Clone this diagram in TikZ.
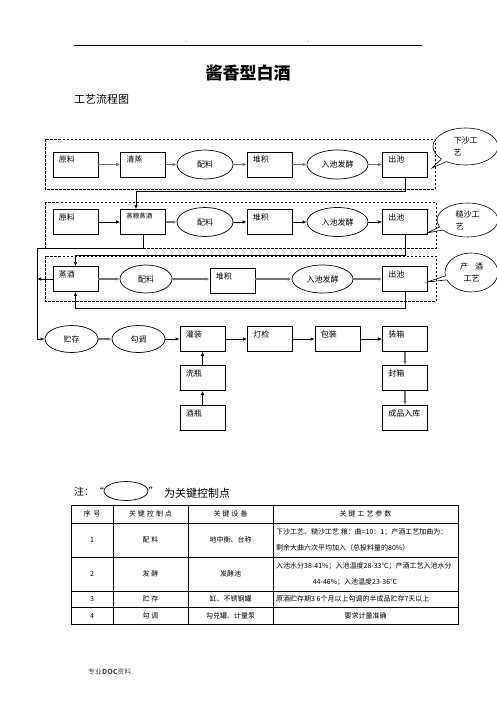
\documentclass[tikz,border=0pt]{standalone}
\usepackage{fontspec}
\setmainfont{Noto Sans CJK SC}
\usetikzlibrary{arrows.meta,shapes.geometric,shapes.callouts}

\tikzset{
  stepbox/.style={draw, line width=0.7pt, minimum width=45pt, minimum height=25pt, inner sep=0pt,
    label={[font=\fontsize{8}{8}\selectfont, anchor=north west, inner sep=0pt, xshift=6pt, yshift=-4pt]north west:#1}},
  keypt/.style={draw, ellipse, line width=0.7pt, minimum width=56pt, minimum height=29pt, inner sep=0pt,
    font=\fontsize{8}{8}\selectfont},
  stage/.style={draw, line width=0.7pt, dash pattern=on 2.5pt off 1.5pt},
  flow/.style={draw=black!55, line width=1.2pt, -{Latex[length=4pt,width=3.5pt]}},
  flowthin/.style={draw=black, line width=0.7pt, -{Latex[length=4pt,width=3.5pt]}},
  note/.style={draw, ellipse callout, line width=0.6pt, inner sep=0pt, callout pointer arc=12,
    font=\fontsize{8}{12}\selectfont},
  cell/.style={font=\fontsize{7}{7}\selectfont, inner sep=0pt}
}

\begin{document}
\begin{tikzpicture}[x=1pt,y=-1pt]
\useasboundingbox (0,0) rectangle (496,702);

% page head
\draw[line width=0.8pt] (74,45) -- (422,45);
\fill[black!40] (186.5,41.5) circle (0.6pt) (308,41.5) circle (0.6pt);
\node[font=\fontsize{17}{17}\selectfont\bfseries] (title) at (248,73) {酱香型白酒};
\node[font=\fontsize{11}{11}\selectfont, anchor=west, inner sep=0pt] (subtitle) at (74,99) {工艺流程图};

% stage frames
\draw[stage] (45,139) rectangle (435,189);
\draw[stage] (45,202) rectangle (436,248);
\draw[stage] (45,256) rectangle (436,301);

% first round
\node[stepbox=原料] (a1) at (75.5,164.5) {};
\node[stepbox=清蒸] (a2) at (143,164.5) {};
\node[keypt] (a3) at (205,164.5) {配料};
\node[stepbox=堆积] (a4) at (269.5,164.5) {};
\node[keypt, minimum width=61pt] (a5) at (337.5,164.5) {入池发酵};
\node[stepbox=出池] (a6) at (405,164.5) {};

\draw[flow] (a1) -- (a2);
\draw[flow] (a2) -- (a3);
\draw[flow] (a3) -- (a4);
\draw[flow] (a4) -- (a5);
\draw[flow] (a5) -- (a6);

% second round
\node[stepbox=原料] (b1) at (75.5,222) {};
\node[stepbox={\fontsize{6.5}{6.5}\selectfont 蒸粮蒸酒}] (b2) at (143,222) {};
\node[keypt] (b3) at (205,222) {配料};
\node[stepbox=堆积] (b4) at (269.5,222) {};
\node[keypt, minimum width=61pt] (b5) at (337.5,222) {入池发酵};
\node[stepbox=出池] (b6) at (405,222) {};

\draw[flowthin] (b1) -- (b2);
\draw[flow] (b2) -- (b3);
\draw[flowthin] (b3) -- (b4);
\draw[flowthin] (b4) -- (b5);
\draw[flowthin] (b5) -- (b6);

% third round
\node[stepbox=蒸酒] (c1) at (75.5,279) {};
\node[keypt, minimum width=52pt, minimum height=28pt] (c2) at (146,279) {配料};
\node[stepbox=堆积] (c3) at (232.5,281) {};
\node[keypt, minimum width=61pt, minimum height=28pt] (c4) at (322.5,279) {入池发酵};
\node[stepbox=出池] (c5) at (405,279) {};

\draw[flow] (c1) -- (c2);
\draw[flow] (c2) -- (c2 -| c3.west);
\draw[flow] (c3.east |- c4) -- (c4);
\draw[flow] (c4) -- (c5);

% callouts
\coordinate (t1) at (432,168);
\coordinate (t2) at (427,233);
\coordinate (t3) at (427,282);
\node[note, align=left, minimum width=65pt, minimum height=37pt, callout absolute pointer={(t1)}] (n1) at (465.5,146.5) {下沙工\\艺};
\node[note, align=left, minimum width=61pt, minimum height=34pt, callout absolute pointer={(t2)}] (n2) at (467.5,220) {糙沙工\\艺};
\node[note, align=center, minimum width=53pt, minimum height=39pt, callout absolute pointer={(t3)}] (n3) at (471.5,272.5) {产\hspace{7pt}酒\\工艺};

% packing line
\node[keypt, minimum width=53pt, minimum height=27pt] (d1) at (71.5,339) {贮存};
\node[keypt, minimum width=53pt, minimum height=27pt] (d2) at (138.5,339) {勾调};
\node[stepbox=灌装] (d3) at (202.5,339) {};
\node[stepbox=灯检] (d4) at (270,339) {};
\node[stepbox=包装] (d5) at (337.5,339) {};
\node[stepbox=装箱] (d6) at (405,339) {};
\node[stepbox=洗瓶] (e1) at (202.5,378) {};
\node[stepbox=酒瓶] (f1) at (202.5,418) {};
\node[stepbox=封箱] (e2) at (405,378) {};
\node[stepbox=成品入库] (f2) at (405,418) {};

\draw[flow] (d1) -- (d2);
\draw[flowthin] (d2) -- (d3);
\draw[flowthin] (d3) -- (d4);
\draw[flowthin] (d4) -- (d5);
\draw[flowthin] (d5) -- (d6);
\draw[flowthin] (e1) -- (d3);
\draw[flowthin] (f1) -- (e1);
\draw[flow] (d6) -- (e2);
\draw[flow] (e2) -- (f2);

% links between rounds
\coordinate (trunk) at (37,248.5);
\draw[flowthin] (a6.south) -- ++(0,13.5) -| ([xshift=-7pt]b2.north);
\draw[flowthin] (b2.south) |- (trunk) |- (d1.west);
\draw[flowthin] (b6.south) -- ++(0,20.5) -| (c1.north);
\draw[flowthin] (c1.west) -- (c1.west -| trunk);
\draw[flowthin] (c5.south) -- ++(0,16.5) -| (c1.south);

% legend
\node[anchor=west, inner sep=0pt, font=\fontsize{10}{10}\selectfont] (notehead) at (74,492) {注：“};
\node[draw, ellipse, line width=0.7pt, minimum width=44pt, minimum height=19pt, inner sep=0pt] (keymark) at (126,491) {};
\node[anchor=west, inner sep=0pt, font=\fontsize{10}{10}\selectfont] (notetail) at (keymark.east) {”};
\node[anchor=west, inner sep=0pt, font=\fontsize{11}{11}\selectfont] (notetext) at (164,493) {为关键控制点};

% table of key points
\draw[line width=0.9pt] (71,505) rectangle (458,624);
\draw[line width=0.5pt] (71,523) -- (458,523);
\draw[line width=0.5pt] (71,557) -- (458,557);
\draw[line width=0.5pt] (71,591) -- (458,591);
\draw[line width=0.5pt] (71,607) -- (458,607);
\draw[line width=0.5pt] (113,505) -- (113,624);
\draw[line width=0.5pt] (188,505) -- (188,624);
\draw[line width=0.5pt] (273,505) -- (273,624);

\node[cell] (h1) at (92,514) {序\hspace{3pt}号};
\node[cell] (h2) at (150.5,514) {关\hspace{2pt}键\hspace{2pt}控\hspace{2pt}制\hspace{2pt}点};
\node[cell] (h3) at (230.5,514) {关\hspace{2pt}键\hspace{2pt}设\hspace{2pt}备};
\node[cell] (h4) at (365.5,514) {关\hspace{2pt}键\hspace{2pt}工\hspace{2pt}艺\hspace{2pt}参\hspace{2pt}数};

\node[cell] (r1n) at (92,540) {1};
\node[cell] (r1p) at (150.5,540) {配\hspace{2pt}料};
\node[cell] (r1e) at (230.5,540) {地中衡、台称};
\node[cell, anchor=west] (r1a) at (276,532) {下沙工艺、糙沙工艺 粮：曲=10：1；产酒工艺加曲为：};
\node[cell, anchor=west] (r1b) at (276,548) {剩余大曲六次平均加入（总投料量的80\%）};

\node[cell] (r2n) at (92,574) {2};
\node[cell] (r2p) at (150.5,574) {发\hspace{2pt}酵};
\node[cell] (r2e) at (230.5,574) {发酵池};
\node[cell, anchor=west] (r2a) at (276,566) {入池水分38-41\%；入池温度28-33℃；产酒工艺入池水分};
\node[cell] (r2b) at (355,582) {44-46\%；入池温度23-36℃};

\node[cell] (r3n) at (92,599) {3};
\node[cell] (r3p) at (150.5,599) {贮\hspace{2pt}存};
\node[cell] (r3e) at (230.5,599) {缸、不锈钢罐};
\node[cell, anchor=west] (r3a) at (276,599) {原酒贮存期3 6个月以上勾调的半成品贮存7天以上};

\node[cell] (r4n) at (92,616) {4};
\node[cell] (r4p) at (150.5,616) {勾\hspace{2pt}调};
\node[cell] (r4e) at (230.5,616) {勾兑罐、计量泵};
\node[cell] (r4a) at (365.5,616) {要求计量准确};

% page foot
\node[anchor=west, inner sep=0pt, font=\fontsize{7}{7}\selectfont, text=black!70] (foot) at (88,672) {专业\textbf{DOC}资料.};
\end{tikzpicture}
\end{document}
